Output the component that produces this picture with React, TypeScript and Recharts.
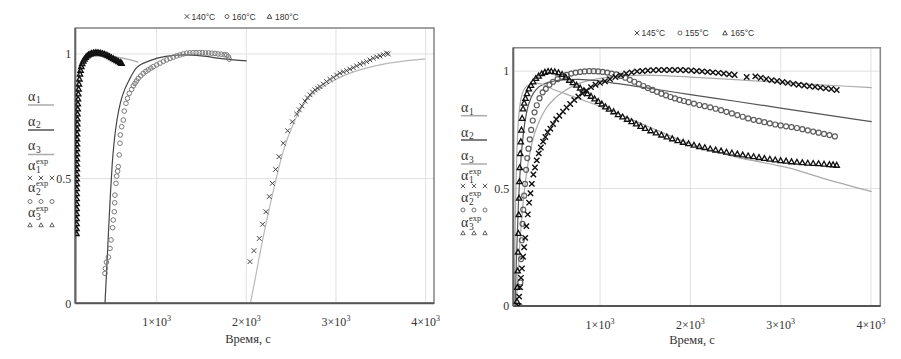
import React from 'react';
import { ComposedChart, XAxis, YAxis, CartesianGrid, Line, Scatter, ReferenceArea } from 'recharts';

type Pt = [number, number];

// ---- left panel: 140 / 160 / 180 °C ----
const expL140: Pt[] = [
  [2041, 0.167], [2085, 0.211], [2145, 0.26], [2182, 0.317], [2219, 0.367], [2256, 0.428], [2290, 0.481],
  [2327, 0.537], [2364, 0.588], [2412, 0.642], [2461, 0.692], [2513, 0.728], [2561, 0.759], [2590, 0.776],
  [2620, 0.792], [2654, 0.811], [2682, 0.824], [2710, 0.836], [2738, 0.847], [2766, 0.856], [2794, 0.863],
  [2821, 0.869], [2858, 0.879], [2896, 0.889], [2933, 0.898], [2970, 0.906], [3008, 0.915], [3045, 0.923],
  [3082, 0.928], [3119, 0.933], [3156, 0.939], [3193, 0.945], [3230, 0.952], [3268, 0.959], [3305, 0.964],
  [3342, 0.969], [3379, 0.976], [3416, 0.983], [3454, 0.988], [3491, 0.992], [3528, 0.997], [3565, 1.003],
  [3583, 1.0],
];
const expL160: Pt[] = [
  [424, 0.12], [428, 0.14], [440, 0.165], [462, 0.185], [480, 0.22], [491, 0.254], [509, 0.303], [516, 0.334],
  [528, 0.367], [532, 0.403], [535, 0.434], [546, 0.481], [554, 0.51], [565, 0.53], [572, 0.548], [583, 0.595],
  [591, 0.642], [595, 0.675], [610, 0.708], [628, 0.735], [639, 0.771], [658, 0.802], [675, 0.822], [695, 0.842],
  [721, 0.858], [740, 0.872], [758, 0.882], [776, 0.892], [795, 0.902], [823, 0.912], [851, 0.922], [879, 0.93],
  [907, 0.936], [935, 0.943], [962, 0.949], [1000, 0.956], [1037, 0.963], [1075, 0.97], [1112, 0.976],
  [1150, 0.982], [1185, 0.987], [1222, 0.992], [1260, 0.996], [1297, 1.0], [1335, 1.003], [1370, 1.004],
  [1405, 1.005], [1440, 1.005], [1475, 1.005], [1510, 1.005], [1545, 1.004], [1580, 1.004], [1615, 1.003],
  [1650, 1.002], [1685, 1.0], [1720, 0.999], [1755, 0.997], [1781, 0.996], [1800, 0.988], [1810, 0.979],
];
const expL180: Pt[] = [
  [106, 0.28], [106, 0.3], [107, 0.32], [107, 0.34], [107, 0.36], [107, 0.38], [108, 0.4], [108, 0.42],
  [108, 0.44], [108, 0.46], [109, 0.48], [109, 0.5], [109, 0.52], [110, 0.54], [110, 0.56], [110, 0.58],
  [111, 0.6], [111, 0.62], [112, 0.64], [112, 0.66], [113, 0.68], [114, 0.7], [115, 0.72], [116, 0.74],
  [117, 0.76], [119, 0.78], [121, 0.8], [123, 0.82], [126, 0.84], [130, 0.86], [134, 0.88], [139, 0.9],
  [145, 0.92], [152, 0.935], [160, 0.95], [170, 0.962], [182, 0.972], [195, 0.98], [210, 0.987], [225, 0.993],
  [240, 0.997], [258, 1.0], [275, 1.003], [295, 1.005], [315, 1.006], [335, 1.006], [355, 1.005], [375, 1.004],
  [395, 1.002], [415, 1.0], [435, 0.997], [455, 0.994], [475, 0.99], [495, 0.986], [515, 0.982], [535, 0.978],
  [555, 0.974], [575, 0.97], [595, 0.966], [610, 0.963],
];
const fitL140: Pt[] = [
  [2045, 0], [2100, 0.1], [2152, 0.2], [2200, 0.285], [2245, 0.361], [2320, 0.48], [2412, 0.61], [2524, 0.72],
  [2673, 0.815], [2859, 0.869], [3008, 0.9], [3231, 0.932], [3491, 0.956], [3750, 0.971], [3993, 0.98],
];
const fitL160: Pt[] = [
  [424, 0], [445, 0.15], [465, 0.3], [485, 0.44], [505, 0.56], [530, 0.66], [560, 0.74], [600, 0.81],
  [647, 0.86], [700, 0.9], [777, 0.945], [926, 0.973], [1100, 0.99], [1300, 0.996], [1500, 0.992],
  [1750, 0.98], [2004, 0.972],
];
const fitL180: Pt[] = [
  [100, 0], [103, 0.3], [106, 0.6], [110, 0.75], [120, 0.85], [140, 0.92], [170, 0.96], [210, 0.98],
  [280, 0.99], [400, 0.992], [610, 0.984], [795, 0.967],
];

// ---- right panel: 145 / 155 / 165 °C ----
const expR145: Pt[] = [
  [95, 0], [105, 0.04], [115, 0.08], [125, 0.12], [135, 0.16], [148, 0.21], [160, 0.25], [172, 0.29],
  [185, 0.34], [200, 0.39], [215, 0.44], [230, 0.48], [245, 0.52], [262, 0.56], [280, 0.59], [300, 0.62],
  [322, 0.65], [345, 0.675], [370, 0.7], [395, 0.72], [420, 0.74], [450, 0.755], [480, 0.775], [515, 0.795],
  [550, 0.81], [590, 0.828], [630, 0.845], [670, 0.86], [715, 0.877], [760, 0.892], [805, 0.905], [850, 0.918],
  [900, 0.932], [950, 0.942], [1000, 0.95], [1055, 0.957], [1110, 0.966], [1170, 0.975], [1230, 0.983],
  [1290, 0.99], [1350, 0.995], [1410, 0.999], [1470, 1.001], [1530, 1.003], [1590, 1.004], [1650, 1.005],
  [1710, 1.005], [1770, 1.005], [1830, 1.005], [1890, 1.005], [1950, 1.004], [2010, 1.003], [2070, 1.001],
  [2130, 0.999], [2190, 0.997], [2250, 0.995], [2310, 0.993], [2370, 0.99], [2430, 0.987], [2490, 0.984],
  [2624, 0.975], [2720, 0.978], [2780, 0.972], [2840, 0.967], [2900, 0.962], [2960, 0.958], [3020, 0.954],
  [3080, 0.95], [3140, 0.946], [3200, 0.942], [3260, 0.939], [3320, 0.936], [3380, 0.933], [3440, 0.93],
  [3500, 0.927], [3560, 0.924], [3620, 0.92],
];
const expR155: Pt[] = [
  [110, 0], [118, 0.1], [126, 0.2], [134, 0.28], [142, 0.35], [150, 0.41], [160, 0.47], [170, 0.52],
  [182, 0.58], [195, 0.63], [208, 0.67], [222, 0.71], [238, 0.75], [255, 0.79], [275, 0.825], [300, 0.855],
  [330, 0.885], [365, 0.91], [400, 0.925], [440, 0.942], [480, 0.955], [530, 0.966], [580, 0.976], [630, 0.984],
  [680, 0.99], [730, 0.994], [780, 0.997], [830, 0.999], [880, 1.0], [930, 1.0], [980, 0.999], [1030, 0.997],
  [1080, 0.994], [1130, 0.99], [1180, 0.986], [1230, 0.98], [1280, 0.972], [1330, 0.963], [1380, 0.955],
  [1430, 0.946], [1480, 0.937], [1530, 0.928], [1580, 0.92], [1630, 0.912], [1680, 0.904], [1730, 0.897],
  [1780, 0.89], [1830, 0.884], [1880, 0.878], [1930, 0.873], [1980, 0.868], [2040, 0.862], [2100, 0.856],
  [2160, 0.851], [2220, 0.846], [2280, 0.84], [2340, 0.834], [2400, 0.827], [2460, 0.82], [2520, 0.813],
  [2580, 0.806], [2640, 0.799], [2700, 0.793], [2760, 0.788], [2820, 0.783], [2880, 0.778], [2940, 0.773],
  [3000, 0.769], [3060, 0.765], [3120, 0.762], [3180, 0.758], [3240, 0.753], [3300, 0.748], [3360, 0.743],
  [3420, 0.738], [3480, 0.733], [3540, 0.728], [3600, 0.722],
];
const expR165: Pt[] = [
  [80, 0.02], [84, 0.08], [88, 0.15], [92, 0.23], [96, 0.31], [100, 0.39], [104, 0.46], [108, 0.53],
  [112, 0.59], [117, 0.65], [123, 0.7], [130, 0.75], [138, 0.8], [148, 0.84], [160, 0.865], [175, 0.885],
  [192, 0.905], [212, 0.925], [235, 0.94], [260, 0.955], [290, 0.97], [320, 0.98], [355, 0.99], [390, 0.996],
  [425, 1.0], [460, 1.0], [500, 0.998], [540, 0.994], [580, 0.987], [620, 0.975], [660, 0.962], [700, 0.952],
  [740, 0.941], [780, 0.929], [820, 0.917], [860, 0.905], [900, 0.894], [940, 0.883], [980, 0.872],
  [1020, 0.861], [1060, 0.849], [1100, 0.839], [1150, 0.828], [1200, 0.816], [1250, 0.806], [1300, 0.796],
  [1350, 0.786], [1400, 0.776], [1450, 0.766], [1500, 0.757], [1560, 0.747], [1620, 0.738], [1680, 0.729],
  [1740, 0.721], [1800, 0.713], [1860, 0.705], [1920, 0.698], [1980, 0.692], [2040, 0.686], [2100, 0.68],
  [2160, 0.675], [2220, 0.67], [2280, 0.665], [2340, 0.661], [2400, 0.656], [2460, 0.652], [2520, 0.648],
  [2580, 0.644], [2640, 0.64], [2700, 0.637], [2760, 0.633], [2820, 0.629], [2880, 0.626], [2940, 0.623],
  [3000, 0.62], [3060, 0.618], [3120, 0.615], [3180, 0.613], [3240, 0.611], [3300, 0.609], [3360, 0.608],
  [3420, 0.607], [3480, 0.605], [3540, 0.603], [3580, 0.602], [3620, 0.6],
];
const fitR145: Pt[] = [
  [70, 0], [90, 0.12], [110, 0.25], [135, 0.38], [165, 0.5], [200, 0.6], [250, 0.7], [320, 0.78], [400, 0.84],
  [500, 0.885], [600, 0.915], [750, 0.945], [900, 0.962], [1100, 0.975], [1300, 0.981], [1500, 0.983],
  [1750, 0.98], [2000, 0.975], [2500, 0.964], [3000, 0.952], [3500, 0.941], [4008, 0.93],
];
const fitR155: Pt[] = [
  [60, 0], [75, 0.2], [95, 0.42], [120, 0.6], [150, 0.73], [190, 0.83], [240, 0.89], [300, 0.925],
  [380, 0.945], [480, 0.957], [600, 0.963], [750, 0.965], [900, 0.962], [1200, 0.947], [1600, 0.924],
  [2000, 0.9], [2500, 0.872], [3000, 0.843], [3500, 0.814], [4008, 0.785],
];
const fitR165: Pt[] = [
  [50, 0], [60, 0.3], [70, 0.52], [80, 0.66], [95, 0.78], [115, 0.86], [140, 0.905], [175, 0.93],
  [220, 0.943], [297, 0.949], [500, 0.92], [750, 0.885], [1055, 0.842], [1500, 0.77], [2000, 0.69],
  [2500, 0.635], [3100, 0.587], [3500, 0.54], [4008, 0.487],
];

const xTicks = [1000, 2000, 3000, 4000];
const yTicks = [0, 0.5, 1];
const legendLeft = ['140°C', '160°C', '180°C'];
const legendRight = ['145°C', '155°C', '165°C'];
const xTitle = 'Время, с';

const SERIF = '"Liberation Serif", "DejaVu Serif", serif';
const SANS = '"Liberation Sans", Arial, sans-serif';

const rows = (pts: Pt[]) => pts.map(([t, a]) => ({ t, a }));

const crossPath = (x: number, y: number, s: number) =>
  `M${x - s},${y - s}L${x + s},${y + s}M${x - s},${y + s}L${x + s},${y - s}`;
const triPath = (x: number, y: number, s: number) =>
  `M${x},${y - s}L${x + s},${y + s * 0.8}L${x - s},${y + s * 0.8}Z`;

const mkCross = (color: string, w = 1, s = 2.4) => (p: any) =>
  p.cx == null ? <g /> : <path d={crossPath(p.cx, p.cy, s)} stroke={color} strokeWidth={w} fill="none" />;
const mkCircle = (color: string, w = 1, r = 2.3) => (p: any) =>
  p.cx == null ? <g /> : <circle cx={p.cx} cy={p.cy} r={r} stroke={color} strokeWidth={w} fill="none" />;
const mkTri = (color: string, w = 1, s = 2.5) => (p: any) =>
  p.cx == null ? <g /> : <path d={triPath(p.cx, p.cy, s)} stroke={color} strokeWidth={w} fill="none" />;

const PowTick = (props: any) => {
  const { x, y, payload } = props;
  return (
    <text x={x} y={y + 23} textAnchor="middle" fontFamily={SERIF} fontSize={12} fill="#333">
      <tspan>{payload.value / 1000}×10</tspan>
      <tspan dy={-5} fontSize={8}>3</tspan>
    </text>
  );
};

type Fit = { pts: Pt[]; color: string };
type Mark = { pts: Pt[]; shape: any };

function Panel(props: {
  left: number; width: number; margin: any; xDomain: [number, number]; yMax: number; fits: Fit[]; marks: Mark[];
}) {
  const { left, width, margin, xDomain, yMax, fits, marks } = props;
  return (
    <div style={{ position: 'absolute', left, top: 0 }}>
      <ComposedChart width={width} height={359} margin={margin}>
        <CartesianGrid stroke="#e0e0e0" strokeWidth={1} />
        <XAxis type="number" dataKey="t" domain={xDomain} ticks={xTicks} allowDataOverflow interval={0}
          height={40} tickLine={false} tickSize={0} tickMargin={0} tick={<PowTick />}
          axisLine={{ stroke: '#555', strokeWidth: 2 }} />
        <YAxis type="number" domain={[0, yMax]} ticks={yTicks} allowDataOverflow width={20} interval={0}
          tickLine={false} tickSize={0} tickMargin={4}
          tick={{ fontFamily: SERIF, fontSize: 12, fill: '#333' }}
          axisLine={{ stroke: '#666', strokeWidth: 2 }} />
        <ReferenceArea x1={xDomain[0]} x2={xDomain[1]} y1={0} y2={yMax} fill="none" fillOpacity={0}
          stroke="#888" strokeWidth={1.5} ifOverflow="visible" />
        {fits.map((f, i) => (
          <Line key={'f' + i} data={rows(f.pts)} dataKey="a" type="monotone" stroke={f.color} strokeWidth={1.2}
            dot={false} activeDot={false} isAnimationActive={false} />
        ))}
        {marks.map((m, i) => (
          <Scatter key={'m' + i} data={rows(m.pts)} dataKey="a" shape={m.shape} isAnimationActive={false} />
        ))}
      </ComposedChart>
    </div>
  );
}

function AlphaKey(props: {
  x: number; fitY: number[]; lineY: number[]; fitColors: string[]; expY: number[]; markY: number[];
}) {
  const { x, fitY, lineY, fitColors, expY, markY } = props;
  const markXs = [x + 2, x + 13, x + 24];
  return (
    <g fontFamily={SERIF} fill="#333">
      {fitY.map((y, i) => (
        <g key={'a' + i}>
          <text x={x} y={y} fontSize={14}>α</text>
          <text x={x + 8} y={y + 2.5} fontSize={9.5}>{i + 1}</text>
          <line x1={x} x2={x + 26} y1={lineY[i]} y2={lineY[i]} stroke={fitColors[i]} strokeWidth={1.5} />
        </g>
      ))}
      {expY.map((y, i) => (
        <g key={'e' + i}>
          <text x={x} y={y} fontSize={14}>α</text>
          <text x={x + 8} y={y - 6.5} fontSize={8.5}>exp</text>
          <text x={x + 8} y={y + 3} fontSize={9.5}>{i + 1}</text>
          {markXs.map((mx, j) =>
            i === 0 ? <path key={j} d={crossPath(mx, markY[i], 2.2)} stroke="#444" strokeWidth={0.9} fill="none" />
            : i === 1 ? <circle key={j} cx={mx} cy={markY[i]} r={2} stroke="#666" strokeWidth={0.9} fill="none" />
            : <path key={j} d={triPath(mx, markY[i], 2.2)} stroke="#555" strokeWidth={0.9} fill="none" />
          )}
        </g>
      ))}
    </g>
  );
}

function TopLegend(props: { xs: number[]; y: number; labels: string[] }) {
  const { xs, y, labels } = props;
  return (
    <g fontFamily={SANS} fontSize={8.5} fill="#333">
      <path d={crossPath(xs[0], y - 3, 2.3)} stroke="#333" strokeWidth={0.9} fill="none" />
      <text x={xs[0] + 4.5} y={y}>{labels[0]}</text>
      <circle cx={xs[1]} cy={y - 3} r={2} stroke="#555" strokeWidth={0.9} fill="none" />
      <text x={xs[1] + 5} y={y}>{labels[1]}</text>
      <path d={triPath(xs[2], y - 3, 2.3)} stroke="#333" strokeWidth={0.9} fill="none" />
      <text x={xs[2] + 5.5} y={y}>{labels[2]}</text>
    </g>
  );
}

export default function App() {
  return (
    <div style={{ position: 'fixed', left: 0, top: 0, width: 901, height: 359, background: '#fff' }}>
      <Panel left={0} width={450} margin={{ top: 28, right: 16, bottom: 15.7, left: 55.3 }}
        xDomain={[93, 4093]} yMax={1.104}
        fits={[
          { pts: fitL140, color: '#b8b8b8' },
          { pts: fitL160, color: '#444' },
          { pts: fitL180, color: '#a8a8a8' },
        ]}
        marks={[
          { pts: expL140, shape: mkCross('#444', 1) },
          { pts: expL160, shape: mkCircle('#7a7a7a', 1) },
          { pts: expL180, shape: mkTri('#111', 1.4, 2.6) },
        ]} />
      <Panel left={450} width={451} margin={{ top: 47.7, right: 20.7, bottom: 13, left: 43.3 }}
        xDomain={[40, 4103]} yMax={1.1}
        fits={[
          { pts: fitR145, color: '#aaa' },
          { pts: fitR155, color: '#555' },
          { pts: fitR165, color: '#aaa' },
        ]}
        marks={[
          { pts: expR155, shape: mkCircle('#5e5e5e', 1.2, 2.5) },
          { pts: expR145, shape: mkCross('#111', 1.4, 2.7) },
          { pts: expR165, shape: mkTri('#111', 1.3, 2.7) },
        ]} />
      <svg width={901} height={359} style={{ position: 'absolute', left: 0, top: 0, pointerEvents: 'none' }}>
        <TopLegend xs={[187, 227, 269.5]} y={19.5} labels={legendLeft} />
        <TopLegend xs={[637, 680, 725]} y={36} labels={legendRight} />
        <AlphaKey x={28} fitY={[100.5, 125.5, 150]} lineY={[105, 130, 154.5]} fitColors={['#aaa', '#555', '#aaa']}
          expY={[170, 192, 217]} markY={[178, 201.5, 225]} />
        <AlphaKey x={461} fitY={[112, 136.5, 160]} lineY={[115.7, 140, 164]} fitColors={['#aaa', '#555', '#aaa']}
          expY={[180, 202, 227]} markY={[186, 210, 233]} />
        <text x={248} y={343} textAnchor="middle" fontFamily={SERIF} fontSize={12.5} fill="#333">{xTitle}</text>
        <text x={692} y={344} textAnchor="middle" fontFamily={SERIF} fontSize={12.5} fill="#333">{xTitle}</text>
      </svg>
    </div>
  );
}
